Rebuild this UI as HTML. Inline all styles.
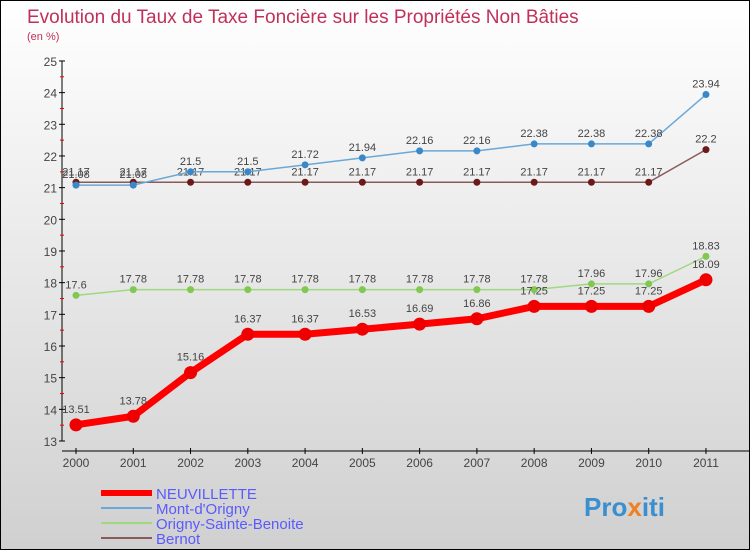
<!DOCTYPE html>
<html><head><meta charset="utf-8"><style>
body{margin:0}
#c{width:750px;height:550px;position:relative;box-sizing:border-box;border:1px solid #000;background:linear-gradient(#fff,#d0d0d0);font-family:"Liberation Sans",sans-serif;overflow:hidden}
</style></head><body>
<div id="c">
<svg id="s" width="750" height="550" style="position:absolute;left:0;top:0">
<text x="26" y="22" font-size="19" fill="#c0305a">Evolution du Taux de Taxe Foncière sur les Propriétés Non Bâties</text>
<text x="26" y="39" font-size="11" fill="#c0305a">(en %)</text>
<g id="axes"></g><g id="series"></g><g id="legend"></g>
<text x="583" y="515" font-size="26" font-weight="bold" fill="#3a8fd0">Pro<tspan fill="#f08020">x</tspan>iti</text>
</svg>
</div>
<script>
const years=["2000","2001","2002","2003","2004","2005","2006","2007","2008","2009","2010","2011"];
const neuvillette=[13.51,13.78,15.16,16.37,16.37,16.53,16.69,16.86,17.25,17.25,17.25,18.09];
const montdorigny=[21.08,21.08,21.5,21.5,21.72,21.94,22.16,22.16,22.38,22.38,22.38,23.94];
const origny=[17.6,17.78,17.78,17.78,17.78,17.78,17.78,17.78,17.78,17.96,17.96,18.83];
const bernot=[21.17,21.17,21.17,21.17,21.17,21.17,21.17,21.17,21.17,21.17,21.17,22.2];
const yTicks=[13,14,15,16,17,18,19,20,21,22,23,24,25];
const NS="http://www.w3.org/2000/svg";
const X=i=>75+i*57.27, Y=v=>440-(v-13)*31.67;
function mk(t,a,p){const e=document.createElementNS(NS,t);for(const k in a)e.setAttribute(k,a[k]);p.appendChild(e);return e;}
const ax=document.getElementById('axes');
let l=mk('line',{x1:61,y1:Y(25),x2:61,y2:Y(13),stroke:'#000'},ax);


l=mk('line',{x1:61,y1:450,x2:750,y2:450,stroke:'#000'},ax);


yTicks.forEach(v=>{
 mk('line',{x1:58,x2:64,y1:Y(v),y2:Y(v),stroke:'#000'},ax);
 if(v<25) mk('line',{x1:59,x2:63,y1:Y(v+0.5),y2:Y(v+0.5),stroke:'#e00'},ax);
 const t=mk('text',{x:56,y:Y(v)+5,'font-size':12,fill:'#444','text-anchor':'end'},ax);t.textContent=v;
 
 
});
years.forEach((y,i)=>{
 mk('line',{x1:X(i),x2:X(i),y1:447,y2:453,stroke:'#000'},ax);
 const t=mk('text',{x:X(i),y:466,'font-size':12,fill:'#444','text-anchor':'middle'},ax);t.textContent=y;
 
 
});
const sg=document.getElementById('series');
const defs=[
 {d:bernot,c:'#8a5a5a',m:'#6a1a1a',w:1.5,r:3.5,n:'bernot',o:7},
 {d:montdorigny,c:'#6aa8d8',m:'#3a88c8',w:1.5,r:3.5,n:'mont-d-origny',o:7},
 {d:origny,c:'#a0d880',m:'#80c850',w:1.5,r:3.5,n:'origny-sainte-benoite',o:7},
 {d:neuvillette,c:'#f00',m:'#e00',w:7,r:6.5,n:'neuvillette',o:12}];
defs.forEach(s=>{
 const p=mk('polyline',{points:s.d.map((v,i)=>X(i)+','+Y(v)).join(' '),fill:'none',stroke:s.c,'stroke-width':s.w},sg);
 
 
 s.d.forEach((v,i)=>{
  const c=mk('circle',{cx:X(i),cy:Y(v),r:s.r,fill:s.m},sg);
  
  
  const t=mk('text',{x:X(i),y:Y(v)-s.o,'font-size':11,fill:'#444','text-anchor':'middle'},sg);t.textContent=v;
  
  
 });
});
const lg=document.getElementById('legend');
[['NEUVILLETTE','#f00',6],["Mont-d'Origny",'#6aa8d8',2],['Origny-Sainte-Benoite','#a0d880',2],['Bernot','#8a5a5a',2]].forEach((e,i)=>{
 const y=492+i*15;
 mk('line',{x1:100,x2:151,y1:y,y2:y,stroke:e[1],'stroke-width':e[2]},lg);
 const t=mk('text',{x:155,y:y+6,'font-size':15,fill:'#5a5aff'},lg);t.textContent=e[0];
 
 
});
</script>
</body></html>
